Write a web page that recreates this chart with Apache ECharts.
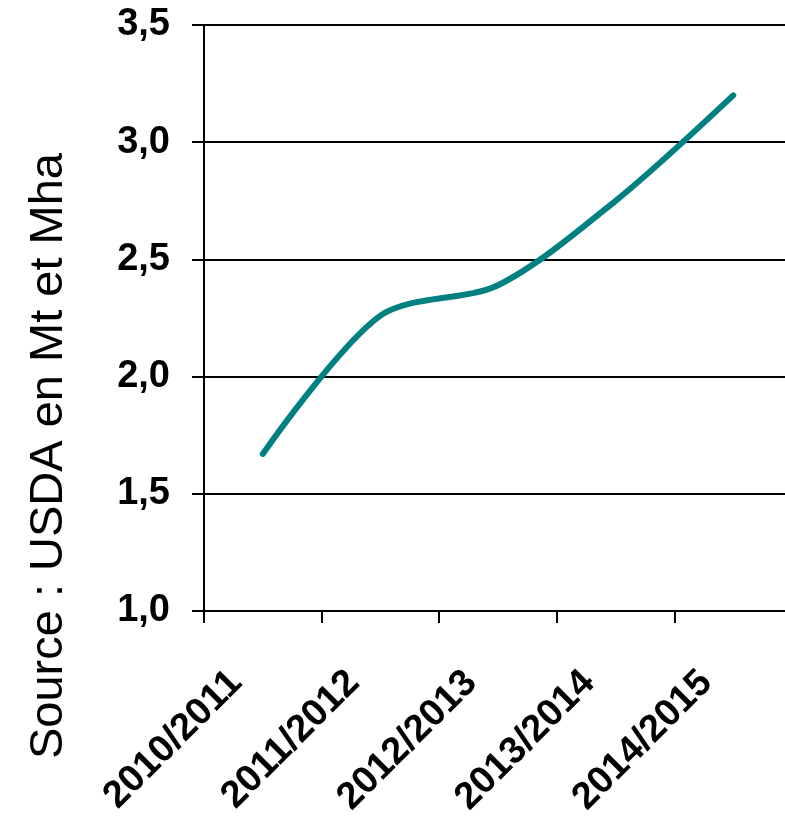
<!DOCTYPE html>
<html>
<head>
<meta charset="utf-8">
<script src="https://cdn.jsdelivr.net/npm/echarts@6/dist/echarts.min.js"></script>
<style>
  html, body { margin: 0; padding: 0; background: #fff; }
  #main { width: 785px; height: 831px; }
</style>
</head>
<body>
<div id="main"></div>
<script>
// campagnes
const categories = ['2010/2011', '2011/2012', '2012/2013', '2013/2014', '2014/2015']
// valeurs
const values = [1.67, 2.26, 2.39, 2.75, 3.20]
const yMin = 1.0
const yMax = 3.5
const yStep = 0.5
const axisName = 'Source : USDA en Mt et Mha'

const chart = echarts.init(document.getElementById('main'))

const font = 'Liberation Sans, Arial, sans-serif'

const option = {
  animation: false,
  grid: {
    left: 204,
    top: 25,
    width: 588,
    height: 586,
    outerBoundsMode: 'none'
  },
  xAxis: {
    type: 'category',
    data: categories,
    boundaryGap: true,
    axisLine: { lineStyle: { color: '#000', width: 2 } },
    axisTick: { show: true, length: 12, lineStyle: { color: '#000', width: 2 } },
    axisLabel: {
      rotate: 45,
      interval: 0,
      margin: 39,
      padding: [0, 38, 0, 0],
      color: '#000',
      fontFamily: font,
      fontWeight: 'bold',
      fontSize: 38
    },
    splitLine: { show: false }
  },
  yAxis: {
    type: 'value',
    min: yMin,
    max: yMax,
    interval: yStep,
    name: axisName,
    nameLocation: 'middle',
    nameRotate: 90,
    nameGap: 131,
    nameTextStyle: {
      color: '#000',
      fontFamily: font,
      fontSize: 47,
      padding: [0, 276, 0, 0]
    },
    axisLine: { show: true, lineStyle: { color: '#000', width: 2 } },
    axisTick: { show: true, length: 12, lineStyle: { color: '#000', width: 2 } },
    axisLabel: {
      margin: 34,
      color: '#000',
      fontFamily: font,
      fontWeight: 'bold',
      fontSize: 38,
      formatter: (v) => v.toFixed(1).replace('.', ',')
    },
    splitLine: { show: true, lineStyle: { color: '#000', width: 2 } }
  },
  series: [
    {
      type: 'line',
      data: values,
      smooth: 0.3,
      showSymbol: false,
      lineStyle: { color: '#008080', width: 6, cap: 'round', join: 'round' }
    }
  ]
}

chart.setOption(option)
</script>
</body>
</html>
